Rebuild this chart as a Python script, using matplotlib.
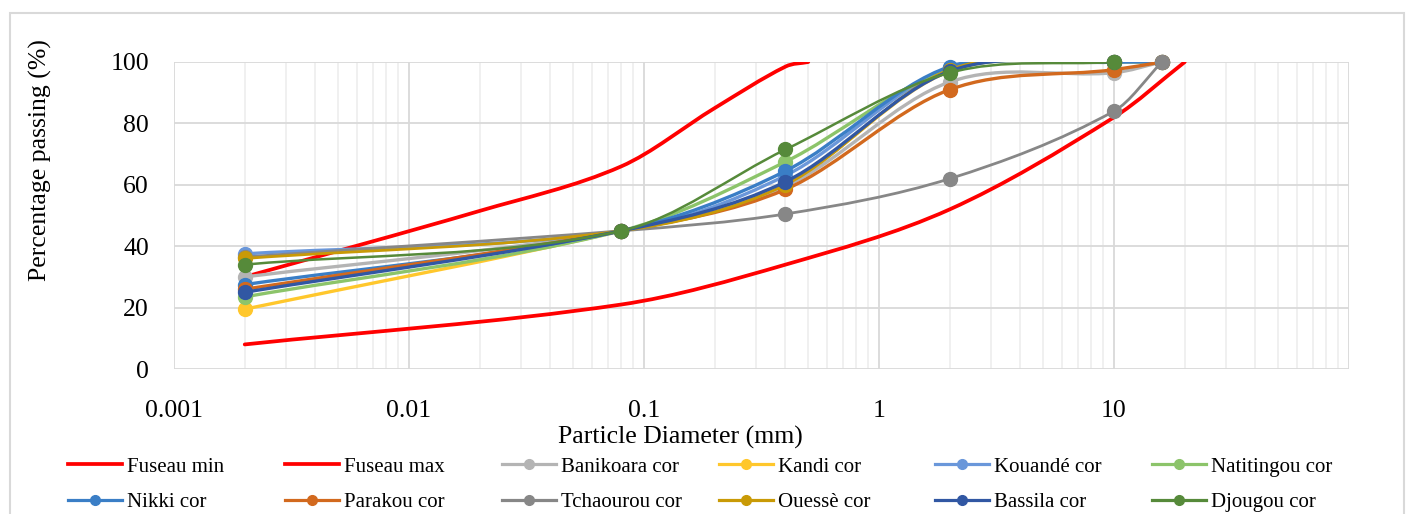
import numpy as np
import matplotlib
matplotlib.use("Agg")
import matplotlib.pyplot as plt
from matplotlib.path import Path
from matplotlib.patches import PathPatch, Rectangle
from matplotlib.lines import Line2D

plt.rcParams['font.family'] = ['Liberation Serif', 'DejaVu Serif']

# ---- data ----
fuseau_min_x = [0.002, 0.08, 0.4, 2, 10, 20]
fuseau_min_y = [8, 21, 34, 52, 82, 100]
fuseau_max_x = [0.002, 0.02, 0.08, 0.2, 0.4, 0.5]
fuseau_max_y = [30, 51.5, 66, 85, 98.5, 100]

sieve = [0.002, 0.08, 0.4, 2, 10, 16]
banikoara = [30, 45, 59.5, 93.5, 96.5, 100]
kandi = [19.5, 45, 60.5, 97, 100, 100]
kouande = [37.5, 45, 63, 98, 100, 100]
natitingou = [23.5, 45, 67.5, 97.5, 100, 100]
nikki = [27.5, 45, 64.5, 98.5, 100, 100]
parakou = [26, 45, 58.5, 91, 97.5, 100]
tchaourou = [36.5, 45, 50.5, 62, 84, 100]
ouesse = [36, 45, 60, 97.5, 100]
bassila = [25, 45, 61, 97, 100]
djougou = [34, 45, 71.5, 96.5, 100]

labels = ["Fuseau min", "Fuseau max", "Banikoara cor", "Kandi cor",
          "Kouandé cor", "Natitingou cor", "Nikki cor", "Parakou cor",
          "Tchaourou cor", "Ouessè cor", "Bassila cor", "Djougou cor"]
colors = ["#FF0000", "#FF0000", "#B4B4B4", "#FFC72C", "#6A97DA", "#8CC46A",
          "#3A7EC6", "#D2691E", "#878787", "#C99A06", "#3157A3", "#568A3A"]


def smooth_path(xs, ys):
    # smoothed line like Excel: cubic bezier segments, log-x as parameter
    u = np.log10(np.asarray(xs, float))
    v = np.asarray(ys, float)
    n = len(u)
    m = np.zeros(n)
    for i in range(n):
        a = max(i - 1, 0)
        b = min(i + 1, n - 1)
        m[i] = (v[b] - v[a]) / (u[b] - u[a])
    verts = [(u[0], v[0])]
    codes = [Path.MOVETO]
    for i in range(n - 1):
        h = (u[i + 1] - u[i]) / 3
        verts += [(u[i] + h, v[i] + m[i] * h),
                  (u[i + 1] - h, v[i + 1] - m[i + 1] * h),
                  (u[i + 1], v[i + 1])]
        codes += [Path.CURVE4] * 3
    verts = np.array(verts)
    verts[:, 0] = 10 ** verts[:, 0]
    return Path(verts, codes)


W, H = 1411, 514
fig = plt.figure(figsize=(W / 100, H / 100), dpi=100)
ax = fig.add_axes([174 / W, 1 - 369 / H, (1349 - 174) / W, (369 - 62) / H])

# chart border
fig.patches.append(Rectangle((10 / W, -0.05), (1404 - 10) / W, 1 - 13 / H + 0.05,
                             transform=fig.transFigure, fill=False,
                             edgecolor="#D9D9D9", lw=1.5))

ax.set_xscale("log")
ax.set_xlim(0.001, 100)
ax.set_ylim(0, 100)

series = [
    (fuseau_min_x, fuseau_min_y, 2.7, False),
    (fuseau_max_x, fuseau_max_y, 2.7, False),
    (sieve, banikoara, 2.4, True),
    (sieve, kandi, 2.4, True),
    (sieve, kouande, 2.4, True),
    (sieve, natitingou, 2.4, True),
    (sieve, nikki, 2.4, True),
    (sieve, parakou, 2.4, True),
    (sieve, tchaourou, 2.0, True),
    (sieve[:5], ouesse, 2.0, True),
    (sieve[:5], bassila, 2.4, True),
    (sieve[:5], djougou, 1.8, True),
]

handles = []
for k, (xs, ys, lw, mk) in enumerate(series):
    c = colors[k]
    patch = PathPatch(smooth_path(xs, ys), fill=False, edgecolor=c, lw=lw,
                      capstyle="round", zorder=2 + k * 0.1)
    ax.add_patch(patch)
    if mk:
        ax.plot(xs, ys, linestyle="none", marker="o", ms=10, color=c,
                clip_on=False, zorder=2 + k * 0.1 + 0.05)
        handles.append(Line2D([], [], color=c, lw=2.3, marker="o", ms=7))
    else:
        handles.append(Line2D([], [], color=c, lw=2.7))

ax.grid(True, which="major", color="#D9D9D9", lw=1.3)
ax.grid(True, which="minor", axis="x", color="#EFEFEF", lw=1.3)
ax.set_axisbelow(True)
for s in ax.spines.values():
    s.set_visible(False)

ax.set_yticks([0, 20, 40, 60, 80, 100])
ax.set_xticks([0.001, 0.01, 0.1, 1, 10, 100])
ax.set_xticklabels(["0.001", "0.01", "0.1", "1", "10", ""])
ax.tick_params(which="both", length=0, labelsize=18.5)
ax.tick_params(axis="x", pad=22)
ax.tick_params(axis="y", pad=18)

fig.text(680 / W, 1 - 437 / H, "Particle Diameter (mm)", fontsize=18.5,
         ha="center", va="center")
fig.text(40 / W, 1 - 160 / H, "Percentage passing (%)", fontsize=18.5,
         rotation=90, ha="center", va="center")

# legend, 6 columns x 2 rows
col_x = [68, 285, 502, 719, 935, 1152]
for i, cx in enumerate(col_x):
    fig.legend([handles[i], handles[i + 6]], [labels[i], labels[i + 6]],
               loc="upper left", bbox_to_anchor=(cx / W, 1 - 457 / H),
               frameon=False, fontsize=15, handlelength=2.6,
               handletextpad=0.25, borderpad=0, borderaxespad=0,
               labelspacing=0.78)

fig.savefig("out.png", dpi=100)
